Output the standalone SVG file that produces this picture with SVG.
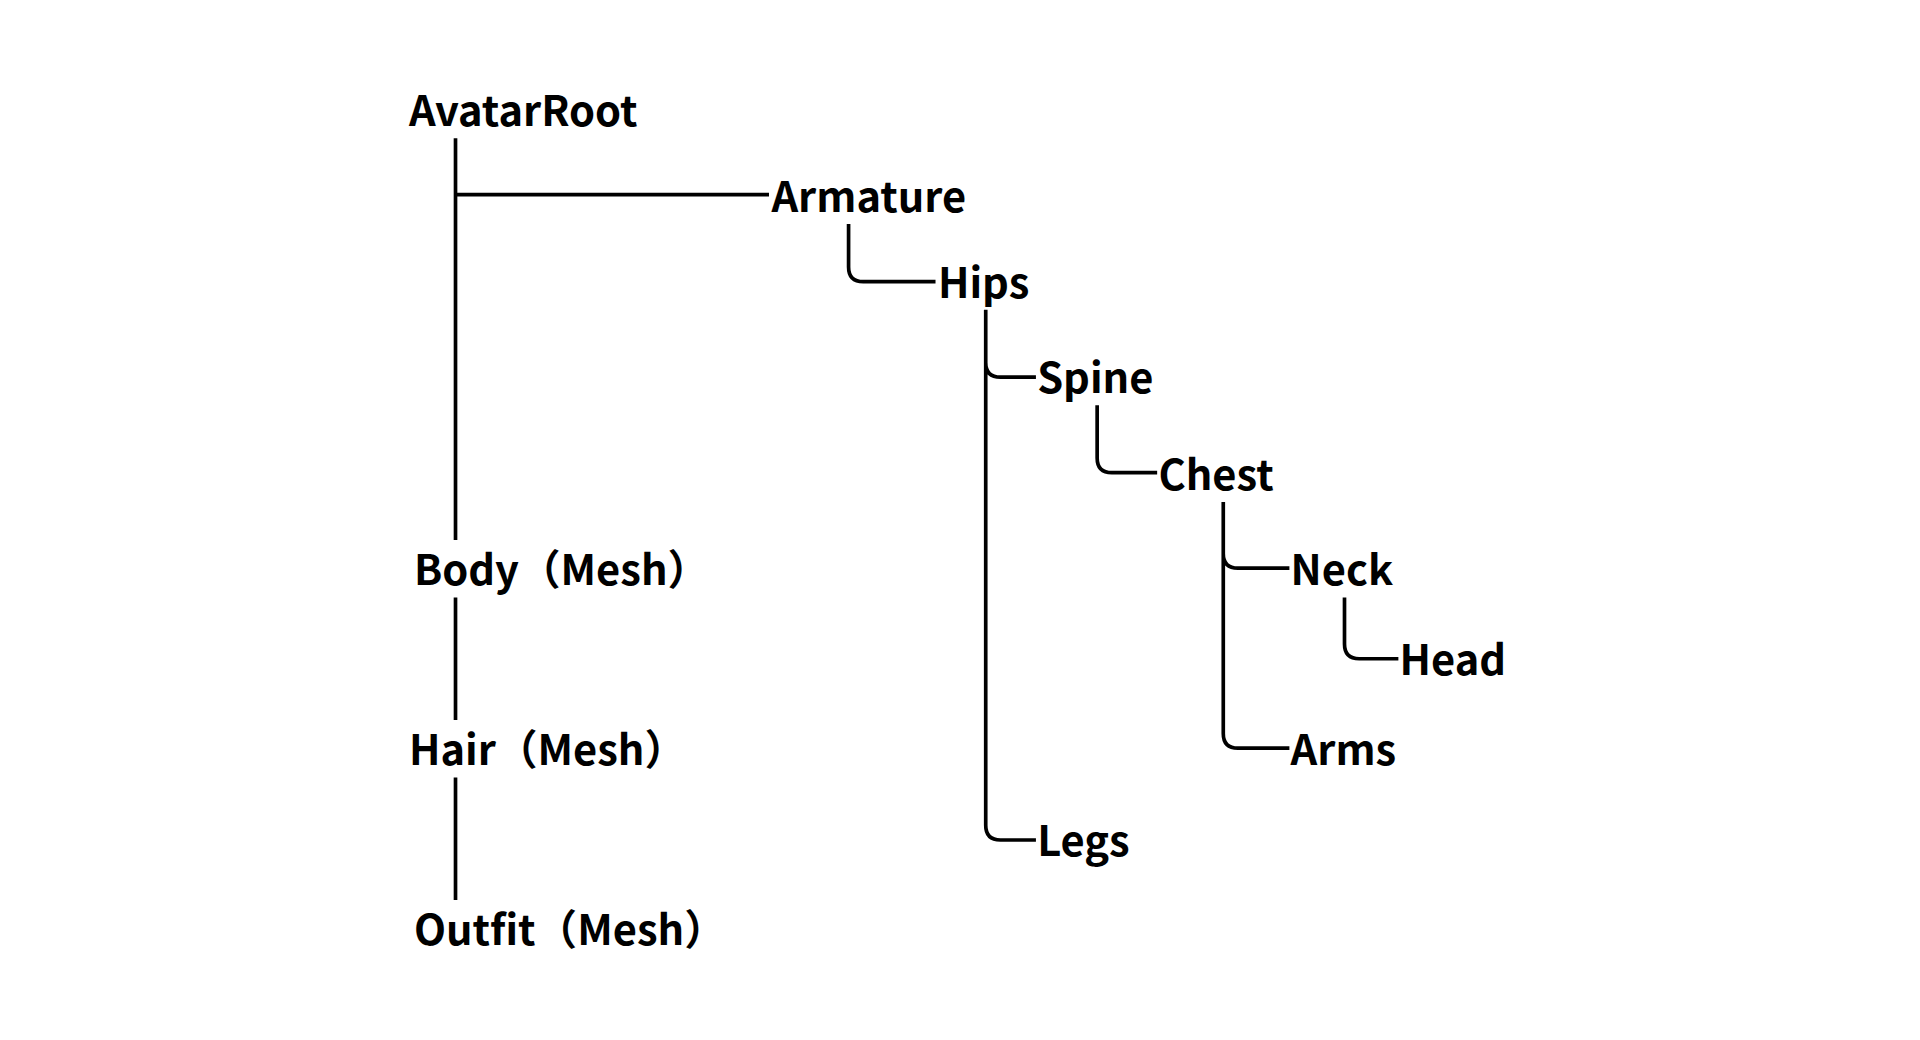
<svg xmlns="http://www.w3.org/2000/svg" width="1920" height="1040" viewBox="0 0 1920 1040">
<style>
.t{font-family:"Noto Sans CJK JP","Noto Sans",sans-serif;font-weight:bold;font-size:34px;fill:#000}
.c{fill:none;stroke:#000;stroke-width:3}
</style>
<rect width="1920" height="1040" fill="#fff"/>
<g transform="scale(1.2245)">
<g id="connectors">
<path class="c" d="M372,113V441M372,159H628"/>
<path class="c" d="M372,488V588M372,635V735"/>
<path class="c" d="M693,183V218Q693,230 705,230H764"/>
<path class="c" d="M805,253V674Q805,686 817,686H846M805,296Q805,308 817,308H846"/>
<path class="c" d="M896,331V374Q896,386 908,386H945"/>
<path class="c" d="M999,410V599Q999,611 1011,611H1053M999,452Q999,464 1011,464H1053"/>
<path class="c" d="M1098,488V526Q1098,538 1110,538H1142"/>
</g>
<g id="AvatarRoot"><text class="t" x="334" y="103">AvatarRoot</text></g>
<g id="Armature"><text class="t" x="630" y="173">Armature</text></g>
<g id="Hips"><text class="t" x="766" y="243">Hips</text></g>
<g id="Spine"><text class="t" x="847" y="321">Spine</text></g>
<g id="Chest"><text class="t" x="946" y="400">Chest</text></g>
<g id="Neck"><text class="t" x="1054" y="478">Neck</text></g>
<g id="Head"><text class="t" x="1143" y="551">Head</text></g>
<g id="Arms"><text class="t" x="1054" y="625">Arms</text></g>
<g id="Legs"><text class="t" x="847" y="699">Legs</text></g>
<g id="Body"><text class="t" x="338" y="478">Body（Mesh）</text></g>
<g id="Hair"><text class="t" x="334" y="625">Hair（Mesh）</text></g>
<g id="Outfit"><text class="t" x="338" y="772">Outfit（Mesh）</text></g>
</g>
</svg>
